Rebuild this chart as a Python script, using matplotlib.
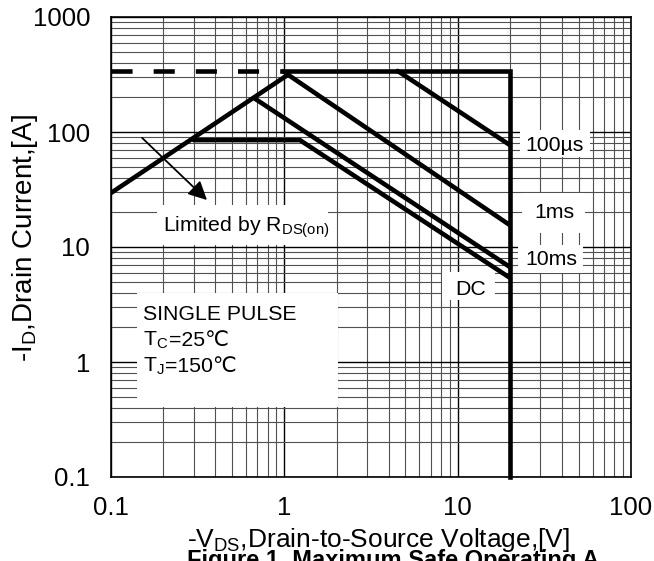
import matplotlib
matplotlib.use("Agg")
import matplotlib.pyplot as plt
from matplotlib.patches import Rectangle
from matplotlib.ticker import LogLocator, FixedLocator, FixedFormatter, NullFormatter

plt.rcParams['font.family'] = ['Liberation Sans', 'DejaVu Sans']
plt.rcParams['mathtext.fontset'] = 'custom'
plt.rcParams['mathtext.rm'] = 'Liberation Sans'
plt.rcParams['mathtext.default'] = 'regular'

# ---- data ----
x_ticks = [0.1, 1, 10, 100]
x_tick_labels = ["0.1", "1", "10", "100"]
y_ticks = [0.1, 1, 10, 100, 1000]
y_tick_labels = ["0.1", "1", "10", "100", "1000"]

limit_dash_v = [0.1, 1.0]
limit_dash_i = [340, 340]
limit_v = [1.0, 20, 20]
limit_i = [340, 340, 0.1]
rds_v = [0.1, 1.05]
rds_i = [29.5, 315]
us100_v = [4.5, 20]
us100_i = [340, 77]
ms1_v = [1.05, 20]
ms1_i = [315, 15.5]
ms10_v = [0.68, 20]
ms10_i = [194, 6.7]
dc_v = [0.3, 1.23, 20]
dc_i = [85, 85, 5.4]
arrow_from = (0.151, 89)
arrow_to = (0.358, 25.6)

W, H = 654, 561
fig = plt.figure(figsize=(W/100, H/100), dpi=100)
AX_L, AX_R, AX_T, AX_B = 111, 631, 17, 477
ax = fig.add_axes([AX_L/W, 1-AX_B/H, (AX_R-AX_L)/W, (AX_B-AX_T)/H])
ax.set_xscale('log')
ax.set_yscale('log')
ax.set_xlim(0.1, 100)
ax.set_ylim(0.1, 1000)

ax.xaxis.set_major_locator(FixedLocator(x_ticks))
ax.xaxis.set_major_formatter(FixedFormatter(x_tick_labels))
ax.yaxis.set_major_locator(FixedLocator(y_ticks))
ax.yaxis.set_major_formatter(FixedFormatter(y_tick_labels))
ax.xaxis.set_minor_locator(LogLocator(base=10, subs=range(2, 10), numticks=20))
ax.yaxis.set_minor_locator(LogLocator(base=10, subs=range(2, 10), numticks=20))
ax.xaxis.set_minor_formatter(NullFormatter())
ax.yaxis.set_minor_formatter(NullFormatter())
ax.tick_params(which='both', length=0)
ax.tick_params(axis='x', pad=14, labelsize=18.5)
ax.tick_params(axis='y', pad=15, labelsize=18.5)
ax.set_axisbelow(True)
ax.grid(True, which='major', color='black', lw=1.0)
ax.grid(True, which='minor', color='#505050', lw=0.8)
for s in ax.spines.values():
    s.set_linewidth(1.2)

def fx(px):
    return (px - AX_L) / (AX_R - AX_L)

def fy(py):
    return (AX_B - py) / (AX_B - AX_T)

def box(x0, x1, y0, y1):
    ax.add_patch(Rectangle((fx(x0), fy(y1)), fx(x1)-fx(x0), fy(y0)-fy(y1),
                           transform=ax.transAxes, facecolor='white',
                           edgecolor='none', zorder=1))

box(157, 328, 205, 245)
box(520, 590, 130, 157)
box(522, 585, 193, 233)
box(518, 583, 245, 273)
box(442, 495, 272, 300)
box(137, 338, 293, 407)

lw = 3.3
ax.plot(limit_dash_v, limit_dash_i, color='black', lw=lw, ls=(0, (4.6, 4.6)),
        dash_capstyle='butt', zorder=3)
ax.plot(limit_v, limit_i, color='black', lw=lw, zorder=3, clip_on=False,
        solid_capstyle='projecting', solid_joinstyle='miter')
for v, i in [(rds_v, rds_i), (us100_v, us100_i), (ms1_v, ms1_i),
             (ms10_v, ms10_i), (dc_v, dc_i)]:
    ax.plot(v, i, color='black', lw=lw, zorder=3, solid_capstyle='round')

ax.annotate('', xy=arrow_to, xytext=arrow_from,
            arrowprops=dict(arrowstyle='-|>', color='black', lw=1.3,
                            mutation_scale=28, shrinkA=0, shrinkB=0), zorder=4)

fs = 15.3
def t(px, py, s, ha='left'):
    return ax.text(fx(px), fy(py), s, transform=ax.transAxes, fontsize=fs,
                   ha=ha, va='baseline', zorder=5)

t(163, 232, r'Limited by R$_{DS(on)}$')
t(555, 151, '100µs', ha='center')
t(554, 218, '1ms', ha='center')
t(551, 265, '10ms', ha='center')
t(471, 295, 'DC', ha='center')
t(143, 320, 'SINGLE PULSE')
tc = t(143, 346, r'T$_{C}$')
tj = t(143, 372, r'T$_{J}$')

fig.text(378/W, 1-547/H, r'-V$_{DS}$,Drain-to-Source Voltage,[V]', fontsize=19,
         ha='center', va='baseline')
fig.text(25/W, 1-238/H, r'-I$_{D}$,Drain Current,[A]', fontsize=20,
         ha='center', va='center', rotation=90)
fig.text(187/W, 1-567/H, 'Figure 1. Maximum Safe Operating A', fontsize=17,
         fontweight='bold', ha='left', va='baseline')

# append the plain-text parts (with the ℃ sign) right after the subscripted T
fig.canvas.draw()
r = fig.canvas.get_renderer()
for base, rest, py in [(tc, '=25℃', 346), (tj, '=150℃', 372)]:
    bb = base.get_window_extent(renderer=r)
    x_px = bb.x1 + 0.5
    ax.text((x_px - ax.bbox.x0) / ax.bbox.width, fy(py), rest,
            transform=ax.transAxes, fontsize=fs, ha='left', va='baseline',
            zorder=5)

fig.savefig('out.png', dpi=100)
